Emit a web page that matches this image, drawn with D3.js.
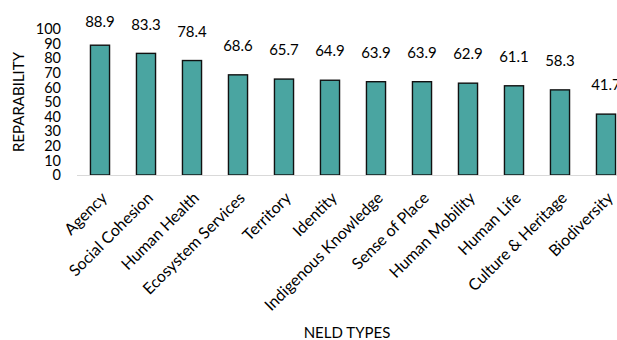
<!DOCTYPE html>
<html>
<head>
<meta charset="utf-8">
<script src="https://cdn.jsdelivr.net/npm/d3@7"></script>
<style>
  html, body { margin: 0; padding: 0; background: #fff; }
  svg { display: block; font-family: Lato, "Open Sans", sans-serif; }
</style>
</head>
<body>
<svg id="chart" width="617" height="340"></svg>
<script>
// NELD types and their reparability scores
const categories = [
  "Agency", "Social Cohesion", "Human Health", "Ecosystem Services",
  "Territory", "Identity", "Indigenous Knowledge", "Sense of Place",
  "Human Mobility", "Human Life", "Culture & Heritage", "Biodiversity"
];
const values = [88.9, 83.3, 78.4, 68.6, 65.7, 64.9, 63.9, 63.9, 62.9, 61.1, 58.3, 41.7];
const yTicks = [0, 10, 20, 30, 40, 50, 60, 70, 80, 90, 100];

const svg = d3.select("#chart");
const plot = { left: 77, right: 629, top: 29, bottom: 175 };

const x = d3.scaleBand()
  .domain(categories)
  .range([plot.left, plot.right])
  .paddingInner(0.585)
  .paddingOuter(0.2925);

const y = d3.scaleLinear()
  .domain([0, 100])
  .range([plot.bottom, plot.top]);

// y-axis tick labels (no axis line)
const yAxis = d3.axisLeft(y).tickValues(yTicks).tickSize(0).tickPadding(0);
const yG = svg.append("g")
  .attr("transform", `translate(${plot.left - 16},0)`)
  .call(yAxis);
yG.select(".domain").remove();
yG.selectAll("text")
  .attr("font-family", "Lato, sans-serif")
  .attr("font-size", 14.5)
  .attr("fill", "#000");

// bars
svg.append("g").selectAll("rect")
  .data(values)
  .join("rect")
  .attr("x", (d, i) => x(categories[i]))
  .attr("y", d => y(d))
  .attr("width", x.bandwidth())
  .attr("height", d => y(0) - y(d))
  .attr("fill", "#4aa5a1")
  .attr("stroke", "#111")
  .attr("stroke-width", 1.4);

// category axis baseline
const xAxis = d3.axisBottom(x).tickSize(0).tickFormat("");
const xG = svg.append("g")
  .attr("transform", `translate(0,${plot.bottom})`)
  .call(xAxis);
xG.select(".domain").attr("stroke", "#d9d9d9").attr("stroke-width", 1.2)
  .attr("d", `M${plot.left},0.5H${plot.right}`);

// rotated category labels
svg.append("g").selectAll("text")
  .data(categories)
  .join("text")
  .attr("transform", d => `translate(${x(d) + x.bandwidth() / 2 + 8},${plot.bottom + 24}) rotate(-45)`)
  .attr("text-anchor", "end")
  .attr("font-size", 16)
  .attr("fill", "#000")
  .text(d => d);

// value labels above bars
svg.append("g").selectAll("text")
  .data(values)
  .join("text")
  .attr("x", (d, i) => x(categories[i]) + x.bandwidth() / 2)
  .attr("y", d => Math.max(y(d) - 29, 22))
  .attr("dy", "0.35em")
  .attr("text-anchor", "middle")
  .attr("font-size", 15)
  .attr("fill", "#000")
  .text(d => d.toFixed(1));

// axis titles
svg.append("text")
  .attr("transform", `translate(19,${(plot.top + plot.bottom) / 2}) rotate(-90)`)
  .attr("text-anchor", "middle")
  .attr("dy", "0.35em")
  .attr("font-size", 15)
  .attr("fill", "#000")
  .text("REPARABILITY");

svg.append("text")
  .attr("x", 347)
  .attr("y", 338)
  .attr("text-anchor", "middle")
  .attr("font-size", 15)
  .attr("fill", "#000")
  .text("NELD TYPES");
</script>
</body>
</html>
